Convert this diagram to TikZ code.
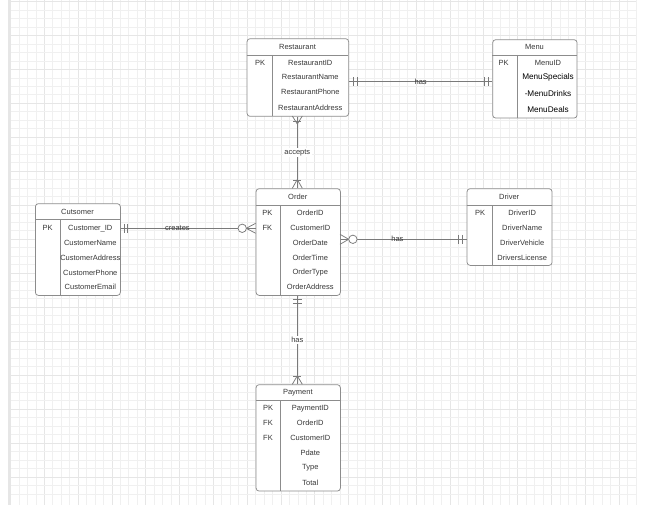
\documentclass[tikz,border=0pt]{standalone}
\usepackage{fontspec}
\setmainfont{Liberation Sans}
\definecolor{gridminor}{HTML}{F0F0F0}
\definecolor{gridmajor}{HTML}{E6E6E6}
\definecolor{boxline}{HTML}{8C8C8C}
\definecolor{connline}{HTML}{7A7A7A}
\definecolor{txt}{HTML}{383838}
\tikzset{
  ebox/.style={draw=boxline, line width=0.75pt, rounded corners=3pt, fill=white, inner sep=0pt, anchor=north west},
  inner/.style={draw=boxline, line width=0.75pt},
  conn/.style={draw=connline, line width=0.75pt},
  sym/.style={draw=connline, line width=0.75pt},
  ttl/.style={font=\fontsize{7.5}{9}\selectfont, text=txt, inner sep=0pt},
  attr/.style={font=\fontsize{7.5}{9}\selectfont, text=txt, inner sep=0pt},
  battr/.style={font=\fontsize{8.2}{10}\selectfont, text=black, inner sep=0pt},
  lbl/.style={font=\fontsize{7.5}{9}\selectfont, text=txt, inner sep=1pt},
  vlbl/.style={font=\fontsize{7.5}{9}\selectfont, text=txt, inner sep=1.5pt, fill=white},
}
\begin{document}
\begin{tikzpicture}[x=1pt,y=-1pt]
\useasboundingbox (0,0) rectangle (648,508);
\fill[white] (0,0) rectangle (648,508);
% ---------- grid ----------
\foreach \i in {0,...,73} {
  \pgfmathsetmacro\xx{19+8.452*\i}
  \pgfmathtruncatemacro\mm{mod(\i+1,4)}
  \ifnum\mm=0 \draw[gridmajor, line width=0.8pt] (\xx,0) -- (\xx,505);
  \else \draw[gridminor, line width=0.8pt] (\xx,0) -- (\xx,505); \fi
}
\foreach \j in {0,...,58} {
  \pgfmathsetmacro\yy{1.5+8.49*\j}
  \pgfmathtruncatemacro\mm{mod(\j,4)}
  \ifnum\mm=0 \draw[gridmajor, line width=0.8pt] (11,\yy) -- (636,\yy);
  \else \draw[gridminor, line width=0.8pt] (11,\yy) -- (636,\yy); \fi
}
\fill[gridmajor] (8,0) rectangle (11,505);
% ---------- Restaurant ----------
\node[ebox, minimum width=101.6pt, minimum height=77.7pt] (rest) at (246.7,38.3) {};
\draw[inner] (246.7,55) -- (348.3,55);
\draw[inner] (272.3,55) -- (272.3,116);
\node[ttl] (restT) at (297.5,46.7) {Restaurant};
\node[attr] (restPK) at (260,62.7) {PK};
\node[attr] (restA1) at (310.3,62.7) {RestaurantID};
\node[attr] (restA2) at (310.3,77.3) {RestaurantName};
\node[attr] (restA3) at (310.3,92.3) {RestaurantPhone};
\node[attr] (restA4) at (310.3,107.7) {RestaurantAddress};
% ---------- Menu ----------
\node[ebox, minimum width=84.4pt, minimum height=78.4pt] (menu) at (492.3,39.3) {};
\draw[inner] (492.3,55) -- (576.7,55);
\draw[inner] (517.3,55) -- (517.3,117.7);
\node[ttl] (menuT) at (534.5,47) {Menu};
\node[attr] (menuPK) at (503.5,62.7) {PK};
\node[attr] (menuA1) at (548,62.7) {MenuID};
\node[battr] (menuA2) at (548,77.3) {MenuSpecials};
\node[battr] (menuA3) at (548,93.3) {-MenuDrinks};
\node[battr] (menuA4) at (548,109.3) {MenuDeals};
% ---------- Customer ----------
\node[ebox, minimum width=85pt, minimum height=91.7pt] (cust) at (35,203.3) {};
\draw[inner] (35,219.3) -- (120,219.3);
\draw[inner] (60.7,219.3) -- (60.7,295);
\node[ttl] (custT) at (77.5,211.7) {Cutsomer};
\node[attr] (custPK) at (47.7,228.3) {PK};
\node[attr] (custA1) at (90.3,228.3) {Customer\_ID};
\node[attr] (custA2) at (90.3,242.7) {CustomerName};
\node[attr] (custA3) at (90.3,257.7) {CustomerAddress};
\node[attr] (custA4) at (90.3,272.7) {CustomerPhone};
\node[attr] (custA5) at (90.3,287.3) {CustomerEmail};
% ---------- Order ----------
\node[ebox, minimum width=84.3pt, minimum height=106.7pt] (ord) at (255.7,188.3) {};
\draw[inner] (255.7,205) -- (340,205);
\draw[inner] (280.7,205) -- (280.7,295);
\node[ttl] (ordT) at (297.8,196.7) {Order};
\node[attr] (ordPK) at (267.3,212.7) {PK};
\node[attr] (ordFK) at (267.3,227.7) {FK};
\node[attr] (ordA1) at (310.3,212.7) {OrderID};
\node[attr] (ordA2) at (310.3,227.7) {CustomerID};
\node[attr] (ordA3) at (310.3,242.7) {OrderDate};
\node[attr] (ordA4) at (310.3,257.7) {OrderTime};
\node[attr] (ordA5) at (310.3,272.7) {OrderType};
\node[attr] (ordA6) at (310.3,287.3) {OrderAddress};
% ---------- Driver ----------
\node[ebox, minimum width=85pt, minimum height=76.7pt] (drv) at (466.7,188.3) {};
\draw[inner] (466.7,205) -- (551.7,205);
\draw[inner] (492.7,205) -- (492.7,265);
\node[ttl] (drvT) at (509.2,196.7) {Driver};
\node[attr] (drvPK) at (480,212.7) {PK};
\node[attr] (drvA1) at (522.2,212.7) {DriverID};
\node[attr] (drvA2) at (522.2,227.7) {DriverName};
\node[attr] (drvA3) at (522.2,242.7) {DriverVehicle};
\node[attr] (drvA4) at (522.2,257.7) {DriversLicense};
% ---------- Payment ----------
\node[ebox, minimum width=84.3pt, minimum height=106.4pt] (pay) at (255.7,384.3) {};
\draw[inner] (255.7,400.7) -- (340,400.7);
\draw[inner] (280.7,400.7) -- (280.7,490.7);
\node[ttl] (payT) at (297.8,392.3) {Payment};
\node[attr] (payPK) at (268,408.3) {PK};
\node[attr] (payFK1) at (268,423.3) {FK};
\node[attr] (payFK2) at (268,438.3) {FK};
\node[attr] (payA1) at (310.3,408.3) {PaymentID};
\node[attr] (payA2) at (310.3,423.3) {OrderID};
\node[attr] (payA3) at (310.3,438.3) {CustomerID};
\node[attr] (payA4) at (310.3,453.3) {Pdate};
\node[attr] (payA5) at (310.3,468) {Type};
\node[attr] (payA6) at (310.3,482.7) {Total};
% ---------- connectors ----------
% Restaurant -- Menu (one and only one both ends)
\coordinate (rmY) at (0,81.7);
\draw[conn] (rest.east |- rmY) -- node[lbl] (lblRM) {has} (menu.west |- rmY);
\draw[sym] (353.3,77.2) -- (353.3,86.2);
\draw[sym] (357.3,77.2) -- (357.3,86.2);
\draw[sym] (484,77.2) -- (484,86.2);
\draw[sym] (488,77.2) -- (488,86.2);
% Restaurant -- Order (one or many both ends)
\coordinate (roX) at (297.3,0);
\draw[conn] (rest.south -| roX) -- node[vlbl] (lblRO) {accepts} (ord.north -| roX);
\draw[sym] (292.3,116) -- (297.3,124) -- (302.3,116);
\draw[sym] (293.3,121.5) -- (301.3,121.5);
\draw[sym] (292.3,188.3) -- (297.3,179.5) -- (302.3,188.3);
\draw[sym] (293.3,180) -- (301.3,180);
% Customer -- Order (one to zero or many)
\coordinate (coY) at (0,228.3);
\draw[conn] (cust.east |- coY) -- node[lbl, pos=0.42] (lblCO) {creates} (ord.west |- coY);
\draw[sym] (124,223.8) -- (124,232.8);
\draw[sym] (127.6,223.8) -- (127.6,232.8);
\draw[sym] (255.7,223.3) -- (246.2,228.3) -- (255.7,233.3);
\draw[sym, fill=white] (242.2,228.3) circle (4.2pt);
% Order -- Driver (zero or many to one)
\coordinate (odY) at (0,239.3);
\draw[conn] (ord.east |- odY) -- node[lbl, pos=0.45] (lblOD) {has} (drv.west |- odY);
\draw[sym] (340,234.3) -- (348.7,239.3) -- (340,244.3);
\draw[sym, fill=white] (352.9,239.3) circle (4.2pt);
\draw[sym] (458.3,234.8) -- (458.3,243.8);
\draw[sym] (462.3,234.8) -- (462.3,243.8);
% Order -- Payment (one to one or many)
\coordinate (opX) at (297.3,0);
\draw[conn] (ord.south -| opX) -- node[vlbl, pos=0.5] (lblOP) {has} (pay.north -| opX);
\draw[sym] (292.8,299.3) -- (301.8,299.3);
\draw[sym] (292.8,303.3) -- (301.8,303.3);
\draw[sym] (292.3,384.3) -- (297.3,375.8) -- (302.3,384.3);
\draw[sym] (293.3,376.3) -- (301.3,376.3);
\end{tikzpicture}
\end{document}
